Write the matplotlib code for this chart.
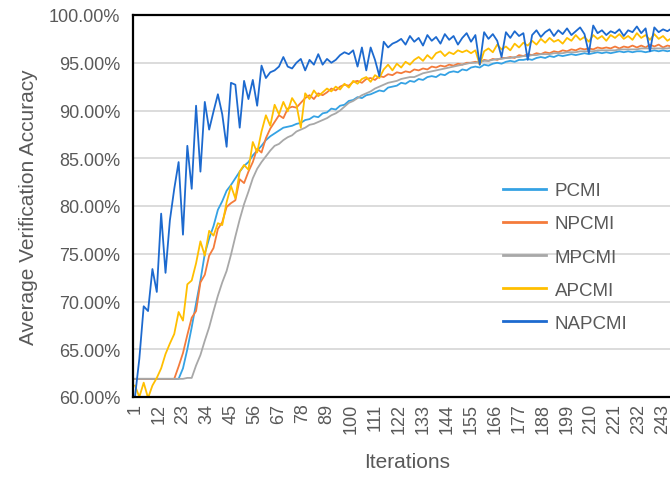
import matplotlib
matplotlib.use("Agg")
from matplotlib import pyplot as plt
from matplotlib.ticker import FixedLocator, FuncFormatter

# accuracy (%) read every 2nd iteration: 1, 3, 5, ..., 249
pcmi = [
    61.9, 61.9, 61.9, 61.9, 61.9, 61.9, 61.9, 61.9, 61.9, 61.9,
    61.9, 63.0, 65.0, 67.3, 69.8, 72.2, 75.0, 76.6, 77.9, 79.6,
    80.5, 81.6, 82.2, 82.9, 83.6, 84.2, 84.6, 85.3, 85.8, 86.3,
    86.9, 87.3, 87.6, 87.9, 88.2, 88.3, 88.4, 88.6, 88.7, 89.0,
    89.1, 89.4, 89.3, 89.7, 89.8, 90.2, 90.1, 90.5, 90.6, 91.0,
    91.1, 91.4, 91.3, 91.6, 91.7, 91.9, 92.1, 92.0, 92.4, 92.5,
    92.6, 92.9, 92.8, 93.1, 93.0, 93.3, 93.2, 93.5, 93.6, 93.5,
    93.8, 93.7, 94.0, 94.1, 94.0, 94.3, 94.2, 94.5, 94.6, 94.5,
    94.8, 94.7, 94.9, 95.0, 94.9, 95.1, 95.2, 95.1, 95.3, 95.3,
    95.4, 95.3, 95.5, 95.6, 95.5, 95.7, 95.6, 95.8, 95.7, 95.8,
    95.9, 95.8, 95.9, 96.0, 95.9, 96.0, 96.1, 96.0, 96.1, 96.0,
    96.1, 96.2, 96.1, 96.2, 96.1, 96.2, 96.2, 96.1, 96.2, 96.3,
    96.2, 96.3, 96.2, 96.3, 96.3]

npcmi = [
    61.9, 61.9, 61.9, 61.9, 61.9, 61.9, 61.9, 61.9, 61.9, 61.9,
    63.2, 64.6, 66.5, 68.3, 69.0, 72.0, 72.8, 74.8, 75.6, 77.6,
    78.3, 79.9, 80.3, 80.6, 82.8, 82.4, 83.6, 84.6, 86.0, 85.6,
    87.1, 88.1, 88.8, 89.5, 89.2, 90.2, 90.4, 90.3, 90.8, 91.3,
    91.6, 91.2, 91.8, 91.6, 91.9, 92.3, 92.1, 92.5, 92.7, 92.6,
    93.0, 93.1, 92.9, 93.3, 93.4, 93.2, 93.6, 93.5, 93.8, 93.7,
    94.0, 93.9, 94.1, 94.0, 94.3, 94.2, 94.4, 94.3, 94.6, 94.5,
    94.7, 94.6, 94.8, 94.7, 94.9, 94.8, 95.0, 95.0, 95.1, 95.0,
    95.3, 95.2, 95.4, 95.3, 95.5, 95.5, 95.6, 95.5, 95.8, 95.7,
    95.9, 95.8, 96.0, 95.9, 96.1, 96.0, 96.2, 96.1, 96.3, 96.2,
    96.4, 96.3, 96.5, 96.4, 96.5, 96.4, 96.6, 96.5, 96.6, 96.5,
    96.7, 96.5, 96.7, 96.6, 96.8, 96.6, 96.8, 96.6, 96.9, 96.7,
    96.9, 96.6, 96.8, 96.7, 96.8]

mpcmi = [
    61.9, 61.9, 61.9, 61.9, 61.9, 61.9, 61.9, 61.9, 61.9, 61.9,
    61.9, 61.9, 62.0, 62.0, 63.3, 64.4, 65.9, 67.3, 69.0, 70.6,
    72.0, 73.2, 74.9, 76.8, 78.6, 80.2, 81.5, 82.9, 83.9, 84.6,
    85.2, 85.8, 86.3, 86.5, 86.9, 87.2, 87.4, 87.8, 88.0, 88.2,
    88.5, 88.6, 88.8, 89.0, 89.2, 89.5, 89.7, 90.0, 90.4, 90.8,
    91.0, 91.3, 91.6, 91.8, 92.0, 92.3, 92.5, 92.7, 92.9, 93.0,
    93.1, 93.3, 93.4, 93.5, 93.5, 93.7, 93.9, 94.0, 94.1, 94.2,
    94.3, 94.4, 94.5, 94.6, 94.7, 94.8, 94.9, 95.0, 95.0, 95.1,
    95.2, 95.2, 95.3, 95.4, 95.4, 95.5, 95.5, 95.6, 95.6, 95.7,
    95.7, 95.8, 95.8, 95.9, 95.9, 95.9, 96.0, 96.0, 96.0, 96.1,
    96.1, 96.1, 96.2, 96.2, 96.2, 96.2, 96.3, 96.3, 96.3, 96.3,
    96.3, 96.4, 96.4, 96.4, 96.4, 96.4, 96.5, 96.5, 96.5, 96.5,
    96.5, 96.5, 96.5, 96.6, 96.6]

apcmi = [
    61.2, 60.0, 61.5, 59.9, 61.2, 62.0, 63.0, 64.5, 65.6, 66.6,
    68.9, 68.0, 71.8, 72.2, 74.0, 76.3, 74.8, 77.4, 76.9, 78.2,
    78.0, 80.4, 82.1, 80.8, 83.6, 84.3, 83.8, 86.7, 85.6, 87.8,
    89.5, 88.4, 90.6, 89.6, 90.9, 89.9, 91.3, 90.6, 88.2, 91.8,
    91.2, 92.1, 91.5, 91.9, 92.3, 92.0, 92.5, 92.2, 92.8, 92.4,
    93.1, 92.8, 93.3, 93.5, 93.0, 93.7, 93.4, 94.3, 94.8, 94.2,
    94.9, 94.5, 95.1, 94.8, 95.3, 95.6, 95.2, 95.8, 95.4, 96.0,
    96.2, 95.7, 96.1, 95.9, 96.3, 96.1, 96.3, 96.0, 96.3, 94.8,
    96.2, 96.5, 96.1, 96.9, 96.4, 96.7, 96.3, 97.0, 96.6, 97.1,
    96.8, 97.3, 96.9, 97.5, 97.1, 97.6, 97.2, 97.4, 97.0, 97.6,
    97.3, 97.9, 97.4, 97.7, 97.2, 97.9, 97.5, 97.8, 97.3, 97.9,
    97.6, 98.0, 97.5, 97.8, 97.4, 98.1, 97.6, 97.9, 97.4, 98.0,
    97.5, 97.8, 97.3, 97.6, 97.4]

napcmi = [
    60.0, 64.0, 69.5, 69.0, 73.4, 71.0, 79.2, 73.0, 78.5, 81.8,
    84.6, 77.0, 86.3, 81.8, 90.5, 83.6, 90.9, 88.0, 89.9, 91.7,
    89.6, 86.2, 92.9, 92.7, 88.2, 93.1, 91.2, 93.2, 90.5, 94.7,
    93.4, 94.0, 94.2, 94.6, 95.6, 94.6, 94.4, 95.0, 95.4, 94.2,
    95.3, 94.8, 95.9, 94.8, 95.4, 95.0, 95.3, 95.8, 96.1, 95.9,
    96.3, 94.6, 96.6, 94.2, 96.6, 95.3, 93.6, 97.2, 96.6, 97.0,
    97.2, 97.5, 96.9, 97.8, 97.2, 97.6, 96.8, 97.9, 97.3, 97.7,
    97.0, 98.0, 97.4, 97.8, 96.9, 97.6, 98.1, 97.2, 97.9, 94.8,
    98.2, 97.5, 98.0, 97.3, 95.6, 98.2, 97.6, 98.3, 97.8, 98.1,
    95.3, 97.9, 98.4, 97.7, 98.2, 98.5, 97.8, 98.4, 98.0, 98.6,
    97.9, 98.3, 98.7, 98.0, 96.0, 98.9, 98.1, 98.4, 97.9, 98.3,
    98.1, 98.5, 97.8, 98.4, 98.2, 98.8, 98.1, 98.6, 96.2, 98.7,
    98.2, 98.5, 98.3, 98.6, 98.4]

names = ['PCMI', 'NPCMI', 'MPCMI', 'APCMI', 'NAPCMI']
colors = ['#35A2E4', '#F47B3B', '#A8A8A8', '#FFBF00', '#1D6ACF']
xticks = list(range(1, 244, 11))

plt.rcParams['font.family'] = ['Liberation Sans', 'DejaVu Sans']
txt = '#595959'

fig = plt.figure(figsize=(6.7, 4.81), dpi=100)
ax = fig.add_axes([133/670, 83/481, 547.5/670, 382/481])

for s, name, c in zip([pcmi, npcmi, mpcmi, apcmi, napcmi], names, colors):
    x = list(range(1, 2*len(s), 2))
    ax.plot(x, s, color=c, lw=1.3, label=name, solid_joinstyle='round')

ax.set_xlim(0.1, 251)
ax.set_ylim(60, 100)
ax.yaxis.set_major_locator(FixedLocator([60, 65, 70, 75, 80, 85, 90, 95, 100]))
ax.yaxis.set_major_formatter(FuncFormatter(lambda v, p: '%.2f%%' % v))
ax.set_xticks(xticks)
ax.set_xticklabels([str(t) for t in xticks], rotation=90, va='top', ha='center')
ax.grid(axis='y', color='#d9d9d9', lw=1.3)
ax.set_axisbelow(True)
ax.tick_params(axis='both', length=0, labelsize=13, colors=txt)
ax.tick_params(axis='y', pad=9)
ax.tick_params(axis='x', pad=4)
for side in ['left', 'bottom', 'top', 'right']:
    ax.spines[side].set_color('black')
    ax.spines[side].set_linewidth(1.6)

ax.set_xlabel('Iterations', fontsize=15, color=txt, labelpad=14)
ax.set_ylabel('Average Verification Accuracy', fontsize=15, color=txt, labelpad=8)

leg = fig.legend(loc='center left', bbox_to_anchor=(503/670, 1 - 258/481),
                 frameon=False, fontsize=13.5, handlelength=2.3, handletextpad=0.45,
                 labelspacing=0.85, borderpad=0, borderaxespad=0)
for t in leg.get_texts():
    t.set_color(txt)
for h in leg.get_lines():
    h.set_linewidth(2)

fig.savefig('out.png', dpi=100)
